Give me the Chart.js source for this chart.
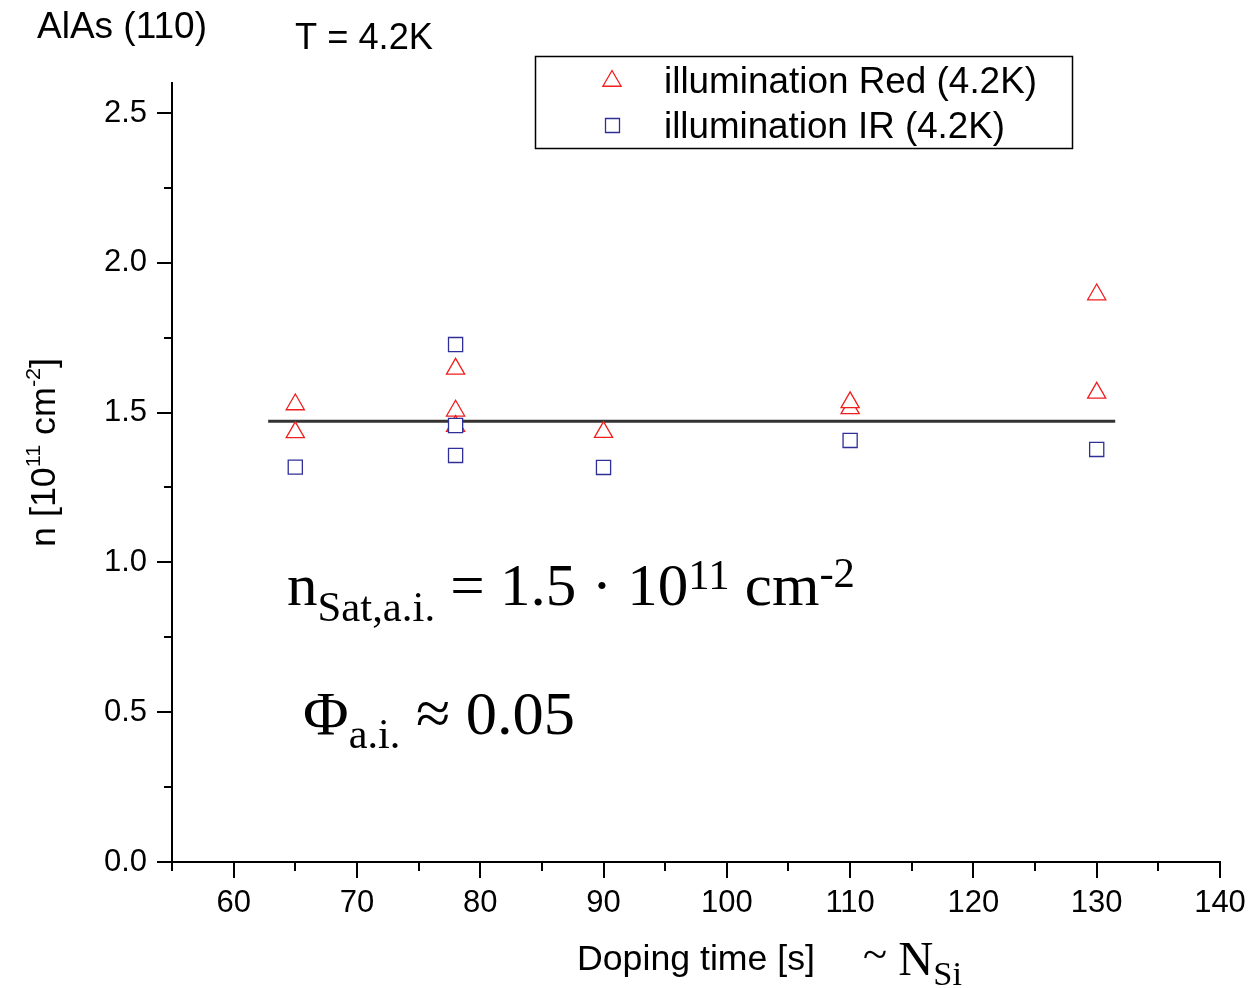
<!DOCTYPE html>
<html>
<head>
<meta charset="utf-8">
<script src="https://cdn.jsdelivr.net/npm/chart.js@4.4.1/dist/chart.umd.min.js"></script>
<style>
  body { margin: 0; background: #fff; }
  canvas { display: block; }
</style>
</head>
<body>
<canvas id="nChart" width="1248" height="988"></canvas>
<script>
// doping time [s] and carrier density n [10^11 cm^-2]
const redTime = [65, 65, 78, 78, 78, 90, 110, 110, 130, 130];
const redDensity = [1.527, 1.434, 1.646, 1.506, 1.455, 1.435, 1.514, 1.534, 1.894, 1.566];
const irTime = [65, 78, 78, 78, 90, 110, 130];
const irDensity = [1.318, 1.727, 1.457, 1.357, 1.317, 1.407, 1.377];
// saturation level
const fitTime = [62.8, 131.5];
const fitDensity = [1.471, 1.471];
// labelled ticks, the rest are minor
const xTickLabels = [60, 70, 80, 90, 100, 110, 120, 130, 140];
const yTickLabels = ["0.0", "0.5", "1.0", "1.5", "2.0", "2.5"];

const RED = "#f21d1d";
const BLUE = "#2f2f98";
const SANS = '"Liberation Sans", Arial, sans-serif';
const SERIF = '"Liberation Serif", "Times New Roman", serif';

function toPoints(xs, ys) {
    return xs.map(function (x, i) { return { x: x, y: ys[i] }; });
}

// draws pieces of text one after another, squeezed to the given width
function drawRun(ctx, parts, x, y, width) {
    var natural = 0;
    parts.forEach(function (p) {
        ctx.font = p.font;
        natural += ctx.measureText(p.t).width;
    });
    var sx = width / natural;
    ctx.save();
    ctx.translate(x, y);
    ctx.scale(sx, 1);
    ctx.textAlign = "left";
    ctx.textBaseline = "alphabetic";
    ctx.fillStyle = "#000";
    var cx = 0;
    parts.forEach(function (p) {
        ctx.font = p.font;
        ctx.fillText(p.t, cx, p.dy || 0);
        cx += ctx.measureText(p.t).width;
    });
    ctx.restore();
}

function triangle(ctx, x, y, r) {
    ctx.beginPath();
    ctx.moveTo(x, y - r);
    ctx.lineTo(x + r * Math.sin(Math.PI / 3), y + r / 2);
    ctx.lineTo(x - r * Math.sin(Math.PI / 3), y + r / 2);
    ctx.closePath();
}

// major/minor tick marks pointing out of the frame
const tickMarks = {
    id: "tickMarks",
    afterDraw: function (chart) {
        var ctx = chart.ctx;
        var xs = chart.scales.x, ys = chart.scales.y;
        var area = chart.chartArea;
        ctx.save();
        ctx.strokeStyle = "#000";
        ctx.lineWidth = 2;
        ctx.beginPath();
        xs.ticks.forEach(function (t, i) {
            var px = Math.round(xs.getPixelForTick(i));
            var len = t.label === "" ? 9 : 16;
            ctx.moveTo(px, area.bottom);
            ctx.lineTo(px, area.bottom + len);
        });
        ys.ticks.forEach(function (t, i) {
            var py = Math.round(ys.getPixelForTick(i));
            var len = t.label === "" ? 8 : 15;
            ctx.moveTo(area.left, py);
            ctx.lineTo(area.left - len, py);
        });
        ctx.stroke();
        ctx.restore();
    }
};

// titles, legend box and the annotations
const textLayer = {
    id: "textLayer",
    afterDraw: function (chart) {
        var ctx = chart.ctx;
        drawRun(ctx, [{ t: "AlAs (110)", font: "36px " + SANS }], 37, 38, 170);
        drawRun(ctx, [{ t: "T = 4.2K", font: "36px " + SANS }], 295, 49, 138);

        // legend
        ctx.save();
        ctx.strokeStyle = "#000";
        ctx.lineWidth = 1.5;
        ctx.strokeRect(535.5, 56.5, 537, 92);
        ctx.fillStyle = "#fff";
        ctx.lineWidth = 1.3;
        ctx.strokeStyle = RED;
        triangle(ctx, 612, 81, 10.5);
        ctx.fill();
        ctx.stroke();
        ctx.strokeStyle = BLUE;
        ctx.beginPath();
        ctx.rect(605.5, 118.5, 14, 14);
        ctx.fill();
        ctx.stroke();
        ctx.restore();
        drawRun(ctx, [{ t: "illumination Red (4.2K)", font: "36px " + SANS }], 664, 93, 373);
        drawRun(ctx, [{ t: "illumination IR (4.2K)", font: "36px " + SANS }], 664, 138, 341);

        // axis titles
        drawRun(ctx, [{ t: "Doping time [s]", font: "35px " + SANS }], 577, 970, 238);
        drawRun(ctx, [
            { t: "~ ", font: "44px " + SERIF, dy: -6 },
            { t: "N", font: "48px " + SERIF },
            { t: "Si", font: "34px " + SERIF, dy: 10 }
        ], 863, 975, 99);

        ctx.save();
        ctx.translate(55, 547);
        ctx.rotate(-Math.PI / 2);
        drawRun(ctx, [
            { t: "n [10", font: "35px " + SANS },
            { t: "11", font: "21px " + SANS, dy: -15 },
            { t: " cm", font: "35px " + SANS },
            { t: "-2", font: "21px " + SANS, dy: -15 },
            { t: "]", font: "35px " + SANS }
        ], 0, 0, 189);
        ctx.restore();

        // saturation density and quantum efficiency
        drawRun(ctx, [
            { t: "n", font: "60px " + SERIF },
            { t: "Sat,a.i.", font: "42px " + SERIF, dy: 16 },
            { t: " = 1.5 · 10", font: "60px " + SERIF },
            { t: "11", font: "42px " + SERIF, dy: -16 },
            { t: " cm", font: "60px " + SERIF },
            { t: "-2", font: "42px " + SERIF, dy: -18 }
        ], 287, 605, 568);
        drawRun(ctx, [
            { t: "Φ", font: "62px " + SERIF },
            { t: "a.i.", font: "42px " + SERIF, dy: 14 },
            { t: " ≈ 0.05", font: "62px " + SERIF }
        ], 303, 734, 272);
    }
};

new Chart(document.getElementById("nChart"), {
    type: "scatter",
    data: {
        datasets: [
            {
                label: "illumination IR (4.2K)",
                data: toPoints(irTime, irDensity),
                pointStyle: "rect",
                pointRadius: 10,
                borderColor: BLUE,
                backgroundColor: "#fff",
                borderWidth: 1.3,
                order: 1
            },
            {
                label: "illumination Red (4.2K)",
                data: toPoints(redTime, redDensity),
                pointStyle: "triangle",
                pointRadius: 10.5,
                borderColor: RED,
                backgroundColor: "#fff",
                borderWidth: 1.3,
                order: 2
            },
            {
                type: "line",
                label: "fit",
                data: toPoints(fitTime, fitDensity),
                borderColor: "#333",
                borderWidth: 3,
                pointRadius: 0,
                order: 3
            }
        ]
    },
    options: {
        responsive: false,
        animation: false,
        devicePixelRatio: 1,
        layout: { padding: { top: 83, right: 28, left: 0, bottom: 0 } },
        plugins: { legend: { display: false }, tooltip: { enabled: false } },
        scales: {
            x: {
                type: "linear",
                min: 55,
                max: 140,
                afterFit: function (s) {
                    s.height = 126;
                    s.paddingLeft = 0;
                    s.paddingRight = 0;
                },
                border: { display: true, color: "#000", width: 2 },
                grid: { drawOnChartArea: false, drawTicks: false },
                ticks: {
                    stepSize: 5,
                    autoSkip: false,
                    maxRotation: 0,
                    padding: 23,
                    color: "#000",
                    font: { family: SANS, size: 31 },
                    callback: function (v) {
                        return xTickLabels.indexOf(v) >= 0 ? String(v) : "";
                    }
                }
            },
            y: {
                min: 0,
                max: 2.6,
                afterFit: function (s) {
                    s.width = 172;
                    s.paddingTop = 0;
                    s.paddingBottom = 0;
                },
                border: { display: true, color: "#000", width: 2 },
                grid: { drawOnChartArea: false, drawTicks: false },
                ticks: {
                    stepSize: 0.25,
                    includeBounds: false,
                    autoSkip: false,
                    padding: 25,
                    color: "#000",
                    font: { family: SANS, size: 31 },
                    callback: function (v) {
                        var s = v.toFixed(1);
                        return Math.abs(v * 2 - Math.round(v * 2)) < 1e-6 && yTickLabels.indexOf(s) >= 0 ? s : "";
                    }
                }
            }
        }
    },
    plugins: [tickMarks, textLayer]
});
</script>
</body>
</html>
